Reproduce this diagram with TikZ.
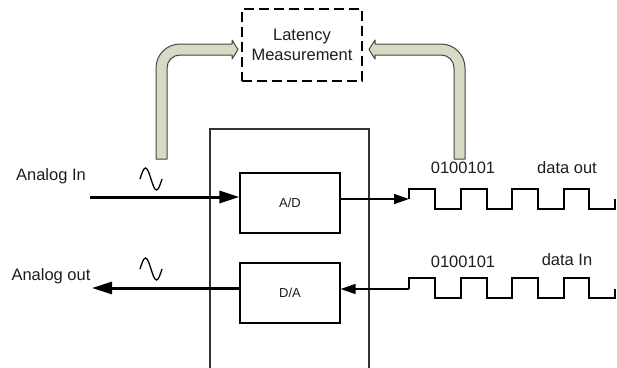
\documentclass[tikz,border=0pt]{standalone}
\usepackage{fontspec}
\setmainfont{Liberation Sans}
\usetikzlibrary{arrows.meta,calc}
\definecolor{fatfill}{RGB}{214,219,195}
\definecolor{fatline}{RGB}{70,70,70}
\definecolor{txt}{RGB}{30,30,30}
\begin{document}
\begin{tikzpicture}[x=1pt,y=-1pt,
  lbl/.style={text=txt,font=\fontsize{16.5}{20}\selectfont,inner sep=0pt},
  conv/.style={draw=black,line width=1.2pt,minimum width=100pt,minimum height=60pt,inner sep=0pt,font=\fontsize{13}{15}\selectfont,text=txt},
  fat/.style={fill=fatfill,draw=fatline,line width=1pt,line join=round},
  thick arrow/.style={line width=3pt,-{Triangle[length=20pt,width=12pt]}},
  thin arrow/.style={line width=1.5pt,-{Triangle[length=15pt,width=10pt]}},
  wave/.style={line width=2pt,line join=miter},
  sine/.style={line width=1.3pt}]
\useasboundingbox (0,0) rectangle (617,367);
\fill[white] (0,0) rectangle (617,367);
% outer device box
\draw[line width=1.3pt,draw=black!80] (210,372) -- (210,129) -- (369,129) -- (369,372);
% latency box
\node[draw=black,line width=2pt,dash pattern=on 10pt off 5pt,minimum width=120pt,minimum height=72pt,align=center,lbl,text=txt] (lat) at (302,45) {Latency\\Measurement};
% converters
\node[conv] (ad) at (290,203) {A/D};
\node[conv] (da) at (290,293) {D/A};
% labels
\node[lbl] (ain) at (51,176) {Analog In};
\node[lbl] (aout) at (51,276) {Analog out};
\node[lbl] (b1) at (463,168) {0100101};
\node[lbl] (dout) at (567,168) {data out};
\node[lbl] (b2) at (463,262) {0100101};
\node[lbl] (din) at (567,260) {data In};
% fat arrows
\draw[fat] (156,159) -- (156,68) .. controls (156,54.75) and (166.75,44) .. (180,44) -- (232,44) -- (232,40) -- (238,49.5) -- (232,59) -- (232,55) -- (180,55) .. controls (172.8,55) and (167,60.8) .. (167,68) -- (167,159) -- cycle;
\draw[fat] (454,159) -- (454,68) .. controls (454,60.8) and (448.2,55) .. (441,55) -- (375,55) -- (375,59) -- (369,49.5) -- (375,40) -- (375,44) -- (441,44) .. controls (454.25,44) and (465,54.75) .. (465,68) -- (465,159) -- cycle;
% analog arrows
\coordinate (ainS) at (90,197);
\coordinate (aoutE) at (92,288);
\draw[thick arrow] (ainS) -- (ainS -| ad.west);
\draw[thick arrow] (aoutE -| da.west) -- (aoutE);
% sine symbols
\draw[sine] (140,179) sin (145.5,168) cos (151,179) sin (156.5,190) cos (162,179);
\draw[sine] (140,269) sin (145.5,258) cos (151,269) sin (156.5,280) cos (162,269);
% digital
\coordinate (w1) at (409,199);
\coordinate (w2) at (409,289);
\draw[thin arrow] (w1 -| ad.east) -- (w1);
\draw[thin arrow] (w2) -- (w2 -| da.east);
\draw[wave] (w1) -- (409,189) -- (435,189) -- (435,209) -- (461,209) -- (461,189) -- (487,189) -- (487,209) -- (512,209) -- (512,189) -- (538,189) -- (538,209) -- (564,209) -- (564,189) -- (589,189) -- (589,209) -- (615,209) -- (615,199);
\draw[wave] (w2) -- (409,278) -- (435,278) -- (435,298) -- (461,298) -- (461,278) -- (487,278) -- (487,298) -- (512,298) -- (512,278) -- (538,278) -- (538,298) -- (564,298) -- (564,278) -- (589,278) -- (589,298) -- (615,298) -- (615,289);
\end{tikzpicture}
\end{document}
